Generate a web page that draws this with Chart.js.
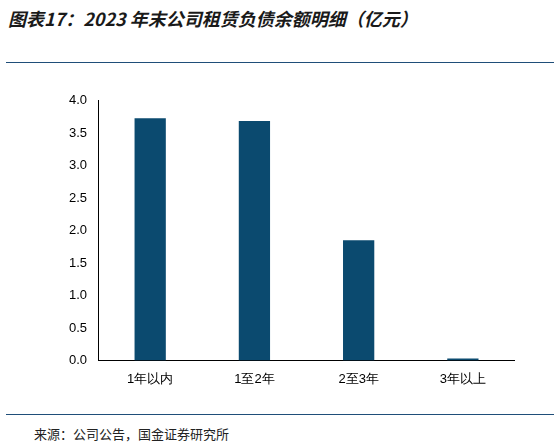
<!DOCTYPE html>
<html><head><meta charset="utf-8">
<script src="https://cdn.jsdelivr.net/npm/chart.js@4/dist/chart.umd.min.js"></script>
<style>
body{margin:0;width:559px;height:446px;background:#fff;font-family:"Noto Sans CJK SC",sans-serif;position:relative;overflow:hidden}
#title{position:absolute;left:8px;top:5px;font-size:18px;font-weight:bold;font-style:italic;color:#1a1a1a}
.rule{position:absolute;left:6px;width:548px;height:1px;background:#1f4e79}
#src{position:absolute;left:34px;top:424px;font-size:13px;color:#222}
#wrap{position:absolute;left:66px;top:90px;width:449px;height:300px}
</style></head><body>
<div id="title">图表17：2023 年末公司租赁负债余额明细（亿元）</div>
<div class="rule" style="top:62px"></div>
<div id="wrap"><canvas id="c"></canvas></div>
<div class="rule" style="top:414px"></div>
<div id="src">来源：公司公告，国金证券研究所</div>
<script>
// ===== data =====
const categories = ['1年以内', '1至2年', '2至3年', '3年以上'];
const balances = [3.73, 3.69, 1.85, 0.03];
const yTicks = [0, 0.5, 1.0, 1.5, 2.0, 2.5, 3.0, 3.5, 4.0];

new Chart(document.getElementById('c'), {
  type: 'bar',
  data: { labels: categories, datasets: [{ data: balances, backgroundColor: '#0b4a6f', barPercentage: 0.3, categoryPercentage: 1 }] },
  options: {
    responsive: true, maintainAspectRatio: false, animation: false,
    plugins: { legend: { display: false }, tooltip: { enabled: false } },
    scales: {
      x: { grid: { display: false }, border: { color: '#000' },
           ticks: { color: '#000', font: { size: 13 } } },
      y: { min: 0, max: 4, grid: { display: false, drawTicks: true }, border: { color: '#000' },
           afterBuildTicks: a => { a.ticks = yTicks.map(v => ({ value: v })); },
           ticks: { color: '#000', font: { size: 13 }, callback: v => v.toFixed(1) } }
    }
  }
});
</script>
</body></html>
